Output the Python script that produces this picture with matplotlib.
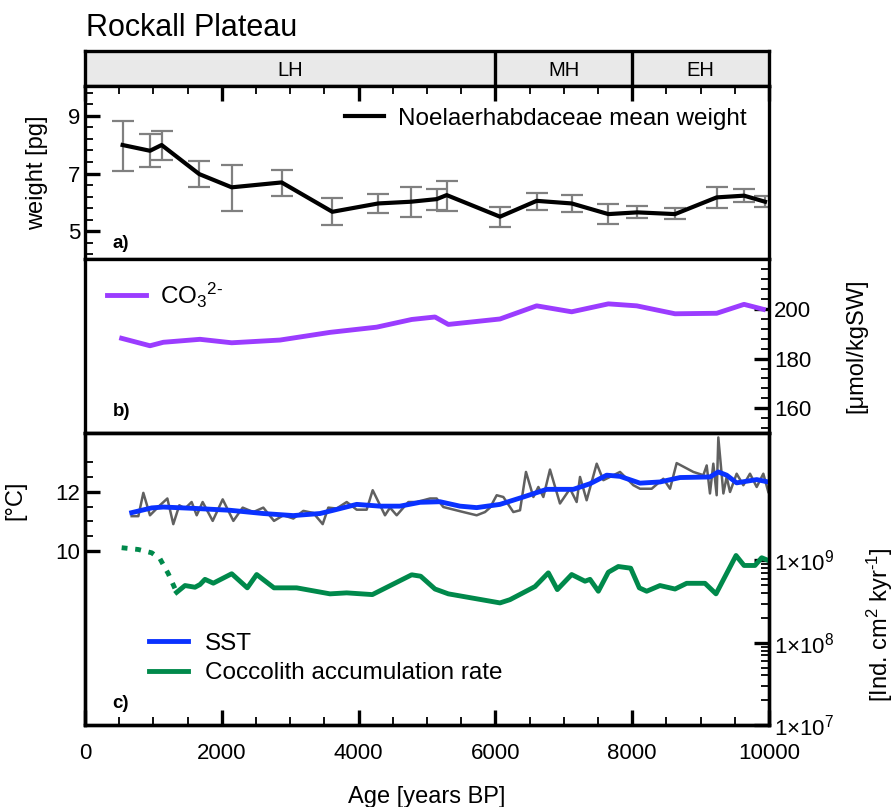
import matplotlib
matplotlib.use('Agg')
import matplotlib.pyplot as plt
import numpy as np
from matplotlib.ticker import FixedLocator, MultipleLocator, NullFormatter, FixedFormatter

plt.rcParams['font.family'] = ['Liberation Sans', 'DejaVu Sans']
plt.rcParams['mathtext.fontset'] = 'custom'
plt.rcParams['mathtext.rm'] = 'Liberation Sans'
plt.rcParams['mathtext.it'] = 'Liberation Sans:italic'

# climate periods
period_names = ['LH', 'MH', 'EH']
period_bounds = [0, 6000, 8000, 10000]

# a) Noelaerhabdaceae mean weight [pg]
wt_age = [550, 950, 1120, 1670, 2145, 2875, 3616, 4288, 4766, 5141, 5288,
          6067, 6603, 7115, 7651, 8075, 8626, 9235, 9635, 9942]
wt_mean = [7.99, 7.79, 7.99, 6.98, 6.52, 6.69, 5.67, 5.96, 6.02, 6.11, 6.25,
           5.50, 6.05, 5.96, 5.59, 5.65, 5.59, 6.17, 6.23, 6.02]
wt_hi = [8.84, 8.37, 8.48, 7.43, 7.30, 7.12, 6.14, 6.28, 6.54, 6.45, 6.75,
         5.85, 6.33, 6.25, 5.94, 5.87, 5.79, 6.54, 6.46, 6.22]
wt_lo = [7.10, 7.22, 7.47, 6.54, 5.71, 6.23, 5.21, 5.62, 5.50, 5.73, 5.71,
         5.15, 5.73, 5.65, 5.23, 5.44, 5.41, 5.79, 6.00, 5.85]

# b) carbonate ion concentration [umol/kgSW]
co3_age = [536, 950, 1145, 1681, 2145, 2851, 3582, 4264, 4776, 5117, 5312,
           6067, 6603, 7115, 7651, 8066, 8626, 9235, 9635, 9917]
co3_val = [188.2, 185.2, 186.6, 187.8, 186.4, 187.5, 190.6, 192.7, 195.8, 196.8,
           193.8, 196.0, 201.3, 198.9, 202.1, 201.3, 198.1, 198.3, 201.9, 199.9]

# c) SST raw record [degC]
sst_age = [682, 780, 853, 950, 1096, 1204, 1291, 1379, 1462, 1559, 1633, 1720,
           1867, 2013, 2169, 2305, 2461, 2607, 2763, 2900, 3046, 3192, 3338,
           3475, 3557, 3679, 3826, 3972, 4118, 4206, 4386, 4459, 4557, 4727,
           4849, 5044, 5141, 5239, 5531, 5726, 5848, 5921, 6019, 6116, 6262,
           6360, 6447, 6555, 6628, 6701, 6798, 6944, 7091, 7188, 7237, 7334,
           7481, 7578, 7675, 7822, 8017, 8114, 8285, 8455, 8553, 8650, 8894,
           9040, 9089, 9137, 9186, 9235, 9259, 9294, 9333, 9381, 9430, 9527,
           9625, 9722, 9820, 9917, 9990]
sst_raw = [11.18, 11.18, 11.97, 11.21, 11.55, 11.78, 10.91, 11.55, 11.44, 11.66,
           11.21, 11.66, 11.02, 11.75, 11.02, 11.47, 11.32, 11.47, 11.02, 11.21,
           11.10, 11.36, 11.29, 10.91, 11.47, 11.44, 11.66, 11.40, 11.40, 12.06,
           11.21, 11.47, 11.21, 11.66, 11.66, 11.78, 11.78, 11.49, 11.32, 11.21,
           11.32, 11.47, 11.89, 11.83, 11.32, 11.38, 12.68, 11.83, 12.17, 11.83,
           12.76, 11.61, 12.11, 11.66, 12.51, 11.72, 12.96, 12.40, 12.51, 12.68,
           12.23, 12.11, 12.11, 12.45, 12.11, 12.98, 12.68, 12.57, 12.90, 11.95,
           12.96, 11.89, 13.85, 12.96, 11.95, 12.51, 12.00, 12.62, 12.23, 12.62,
           12.17, 12.62, 12.00]

# c) smoothed SST [degC]
sst_sm_age = [683, 975, 1145, 1633, 2120, 2607, 3045, 3436, 3630, 3972, 4313,
              4605, 4898, 5190, 5482, 5726, 6067, 6408, 6750, 7139, 7383, 7627,
              7822, 8114, 8406, 8699, 9137, 9259, 9381, 9527, 9820, 9990]
sst_sm = [11.30, 11.46, 11.49, 11.44, 11.38, 11.27, 11.20, 11.27, 11.38, 11.58,
          11.52, 11.52, 11.65, 11.67, 11.52, 11.47, 11.58, 11.83, 12.09, 12.09,
          12.28, 12.57, 12.53, 12.30, 12.34, 12.49, 12.51, 12.68, 12.57, 12.31,
          12.42, 12.34]

# c) coccolith accumulation rate [Ind. cm2 kyr-1]
acc_dash_age = [536, 780, 975, 1096, 1218, 1340]
acc_dash = [1.43e9, 1.36e9, 1.24e9, 1.05e9, 6.9e8, 4.1e8]
acc_age = [1340, 1462, 1608, 1681, 1754, 1876, 2145, 2373, 2510, 2763, 3095,
           3582, 3826, 4201, 4776, 4907, 5117, 5312, 6019, 6067, 6213, 6579,
           6774, 6905, 7115, 7310, 7383, 7505, 7651, 7797, 7978, 8104, 8212,
           8406, 8626, 8796, 9064, 9225, 9518, 9635, 9795, 9893, 9990]
acc_val = [4.1e8, 4.96e8, 4.73e8, 5.1e8, 5.9e8, 5.3e8, 6.9e8, 4.65e8, 6.75e8,
           4.65e8, 4.65e8, 3.93e8, 4.04e8, 3.85e8, 6.7e8, 6.44e8, 4.5e8, 3.93e8,
           3.1e8, 3.05e8, 3.34e8, 4.82e8, 7.08e8, 4.43e8, 6.75e8, 5.6e8, 5.9e8,
           4.23e8, 7.2e8, 8.45e8, 8.06e8, 4.65e8, 4.23e8, 4.96e8, 4.5e8, 5.28e8,
           5.28e8, 3.93e8, 1.15e9, 8.7e8, 8.7e8, 1.08e9, 1.0e9]

purple = '#9b3cff'
blue = '#0a32ff'
green = '#00894b'
grey = '#606060'
SPW = 2.4
FS = 16
LFS = 17.5

W, H = 896, 807
L, R = 85, 769


def box(top, bottom):
    return [L / W, 1 - bottom / H, (R - L) / W, (bottom - top) / H]


def style_ticks(ax):
    ax.tick_params(which='major', length=11, width=SPW)
    ax.tick_params(which='minor', length=6, width=1.3)


fig = plt.figure(figsize=(W / 100, H / 100), dpi=100)

ax_h = fig.add_axes(box(51, 86))
ax_a = fig.add_axes(box(86, 259))
ax_b = fig.add_axes(box(259, 433))
ax_c = fig.add_axes(box(433, 725))

for ax in (ax_h, ax_a, ax_b, ax_c):
    ax.set_xlim(0, 10000)
    for s in ax.spines.values():
        s.set_linewidth(SPW)

# header with periods
ax_h.set_facecolor('#e9e9e9')
ax_h.set_ylim(0, 1)
ax_h.set_xticks([])
ax_h.set_yticks([])
for b in period_bounds[1:-1]:
    ax_h.axvline(b, color='black', lw=SPW)
for i, name in enumerate(period_names):
    ax_h.text((period_bounds[i] + period_bounds[i + 1]) / 2, 0.43, name,
              ha='center', va='center', fontsize=14.5)
fig.text(86 / W, 1 - 28 / H, 'Rockall Plateau', fontsize=22, va='center', ha='left')

# a) weight
yerr = [np.subtract(wt_mean, wt_lo), np.subtract(wt_hi, wt_mean)]
ax_a.errorbar(wt_age, wt_mean, yerr=yerr, fmt='none', ecolor='#808080',
              elinewidth=1.6, capsize=8, capthick=1.6, zorder=2)
ax_a.plot(wt_age, wt_mean, color='black', lw=3, zorder=3,
          label='Noelaerhabdaceae mean weight')
ax_a.set_ylim(4.03, 10.04)
ax_a.yaxis.set_major_locator(FixedLocator([5, 7, 9]))
ax_a.yaxis.set_minor_locator(FixedLocator([5 + 0.4 * k for k in range(-2, 13)]))
ax_a.xaxis.set_major_locator(MultipleLocator(2000))
ax_a.xaxis.set_minor_locator(MultipleLocator(500))
ax_a.tick_params(axis='x', which='both', direction='in', top=True, bottom=False,
                 labelbottom=False)
ax_a.tick_params(axis='y', which='both', direction='in', left=True, right=False,
                 labelsize=FS)
style_ticks(ax_a)
ax_a.set_ylabel('weight [pg]', fontsize=17)
ax_a.yaxis.set_label_coords(-0.054, 0.5)
ax_a.legend(loc='upper right', frameon=False, fontsize=LFS, handlelength=1.6,
            handletextpad=0.6, borderaxespad=0.5)
ax_a.text(0.04, (259 - 243) / 173, 'a)', transform=ax_a.transAxes, fontsize=13.5,
          fontweight='bold', va='center')

# b) carbonate ion
ax_b.plot(co3_age, co3_val, color=purple, lw=3.5, label='CO$_3$$^{\\text{2-}}$')
ax_b.set_ylim(150, 220.2)
ax_b.yaxis.tick_right()
ax_b.yaxis.set_major_locator(FixedLocator([160, 180, 200]))
ax_b.yaxis.set_minor_locator(MultipleLocator(4))
ax_b.set_xticks([])
ax_b.tick_params(axis='y', which='both', direction='in', labelsize=FS)
style_ticks(ax_b)
fig.text(856 / W, 1 - 346 / H, '[μmol/kgSW]', fontsize=17, rotation=90,
         ha='center', va='center')
ax_b.legend(loc='upper left', frameon=False, fontsize=LFS, handlelength=1.6,
            handletextpad=0.6, borderaxespad=0.5)
ax_b.text(0.04, (433 - 412) / 174, 'b)', transform=ax_b.transAxes, fontsize=13.5,
          fontweight='bold', va='center')

# c) SST and accumulation rate
ax_c.plot(sst_age, sst_raw, color=grey, lw=1.8, zorder=2)
ax_c.plot(sst_sm_age, sst_sm, color=blue, lw=3.5, zorder=3, label='SST')
ax_c.set_ylim(4.1, 14)
ax_c.yaxis.set_major_locator(FixedLocator([10, 12]))
ax_c.yaxis.set_minor_locator(FixedLocator([10.5, 11, 11.5, 12.5, 13]))
ax_c.xaxis.set_major_locator(MultipleLocator(2000))
ax_c.xaxis.set_minor_locator(MultipleLocator(500))
ax_c.tick_params(which='both', direction='in', top=False, right=False,
                 labelsize=FS)
ax_c.tick_params(axis='x', pad=13)
style_ticks(ax_c)
ax_c.set_ylabel('[°C]', fontsize=17)
ax_c.yaxis.set_label_coords(-0.085, 0.77)
ax_c.set_xlabel('Age [years BP]', fontsize=17, labelpad=16)

ax_c2 = ax_c.twinx()
ax_c2.set_yscale('log')
ax_c2.plot(acc_dash_age, acc_dash, color=green, lw=3.5, ls=(0, (1.2, 1.6)))
ax_c2.plot(acc_age, acc_val, color=green, lw=3.5, label='Coccolith accumulation rate')
ax_c2.set_ylim(1e7, 10 ** 10.55)
ax_c2.yaxis.set_major_locator(FixedLocator([1e7, 1e8, 1e9]))
ax_c2.yaxis.set_major_formatter(FixedFormatter(['1×10$^7$', '1×10$^8$', '1×10$^9$']))
ax_c2.yaxis.set_minor_locator(FixedLocator([k * 10.0 ** e for e in (7, 8) for k in range(2, 10)]))
ax_c2.yaxis.set_minor_formatter(NullFormatter())
ax_c2.tick_params(which='both', direction='in', labelsize=FS)
style_ticks(ax_c2)
for s in ax_c2.spines.values():
    s.set_linewidth(SPW)
fig.text(880 / W, 1 - 625 / H, '[Ind. cm$^2$ kyr$^{\\text{-1}}$]', fontsize=17,
         rotation=90, ha='center', va='center')

h1, l1 = ax_c.get_legend_handles_labels()
h2, l2 = ax_c2.get_legend_handles_labels()
ax_c2.legend(h1 + h2, l1 + l2, loc='lower left', frameon=False, fontsize=LFS,
             handlelength=1.6, handletextpad=0.7, labelspacing=0.32,
             borderaxespad=0, bbox_to_anchor=(0.08, 0.106))
ax_c.text(0.04, (725 - 703) / 292, 'c)', transform=ax_c.transAxes, fontsize=13.5,
          fontweight='bold', va='center')

fig.savefig('out.png', dpi=100)
